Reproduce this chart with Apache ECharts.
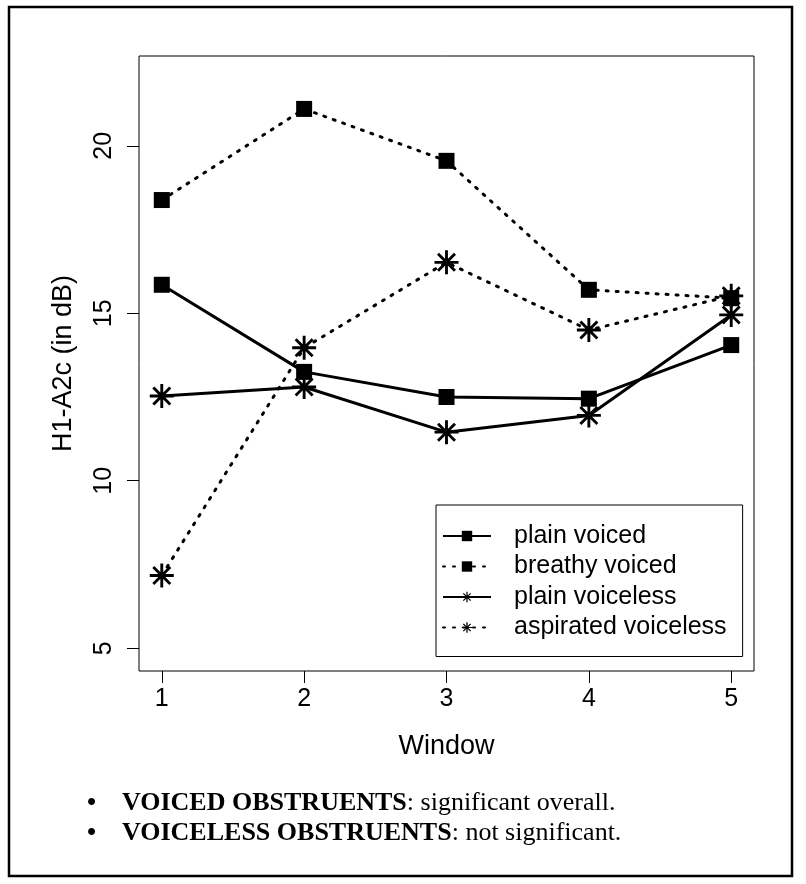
<!DOCTYPE html>
<html><head><meta charset="utf-8">
<script src="https://cdn.jsdelivr.net/npm/echarts@6/dist/echarts.min.js"></script>
<style>html,body{margin:0;padding:0;background:#fff}#c{width:806px;height:884px}</style>
</head><body><div id="c"></div>
<script>
// ---- data ----
const windows = [1, 2, 3, 4, 5];
const xTicks = [1, 2, 3, 4, 5];
const yTicks = [5, 10, 15, 20];
const plainVoiced = [15.85, 13.25, 12.5, 12.45, 14.05];
const breathyVoiced = [18.38, 21.1, 19.55, 15.7, 15.45];
const plainVoiceless = [12.53, 12.8, 11.45, 11.95, 14.95];
const aspiratedVoiceless = [7.17, 13.97, 16.52, 14.5, 15.52];
const seriesNames = ['plain voiced', 'breathy voiced', 'plain voiceless', 'aspirated voiceless'];
const xTitle = 'Window';
const yTitle = 'H1-A2c (in dB)';
const noteBold = ['VOICED OBSTRUENTS', 'VOICELESS OBSTRUENTS'];
const noteRest = [': significant overall.', ': not significant.'];

// ---- styling ----
const SANS = '"Liberation Sans", Arial, Helvetica, sans-serif';
const SERIF = '"Liberation Serif", "Times New Roman", Times, serif';
const ASTERISK = 'path://M0 44L100 44L100 56L0 56Z M44 0L56 0L56 100L44 100Z M18.88 10.4L89.6 81.12L81.12 89.6L10.4 18.88Z M89.6 18.88L18.88 89.6L10.4 81.12L81.12 10.4Z';
const solid = { color: '#000', width: 3, type: 'solid' };
const dotted = { color: '#000', width: 3, type: [2, 8], cap: 'round' };

function mk(name, vals, symbol, size, ls) {
  return {
    name, type: 'line',
    data: windows.map((w, i) => [w, vals[i]]),
    symbol, symbolSize: size, symbolKeepAspect: true, showSymbol: true, showAllSymbol: true,
    lineStyle: ls, itemStyle: { color: '#000' },
    emphasis: { disabled: true }, clip: false, animation: false
  };
}

const chart = echarts.init(document.getElementById('c'), null, { renderer: 'canvas' });
chart.setOption({
  animation: false,
  backgroundColor: '#fff',
  grid: { left: 139, right: 52, top: 56, bottom: 213, show: true, borderColor: '#000', borderWidth: 1, backgroundColor: 'transparent' },
  xAxis: {
    type: 'value', min: 0.84, max: 5.16,
    name: xTitle, nameLocation: 'middle', nameGap: 62,
    nameTextStyle: { fontSize: 27, fontFamily: SANS, color: '#000' },
    axisLine: { show: false }, splitLine: { show: false },
    axisTick: { show: true, length: 12, customValues: xTicks, lineStyle: { color: '#000', width: 1 } },
    axisLabel: { show: true, customValues: xTicks, fontSize: 25, fontFamily: SANS, color: '#000', margin: 16 }
  },
  yAxis: {
    type: 'value', min: 4.32, max: 22.68,
    name: yTitle, nameLocation: 'middle', nameRotate: 90, nameGap: 62,
    nameTextStyle: { fontSize: 27, fontFamily: SANS, color: '#000' },
    axisLine: { show: false }, splitLine: { show: false },
    axisTick: { show: true, length: 12, customValues: yTicks, lineStyle: { color: '#000', width: 1 } },
    axisLabel: { show: true, customValues: yTicks, rotate: 90, fontSize: 25, fontFamily: SANS, color: '#000', margin: 22 }
  },
  legend: {
    orient: 'vertical', left: 436, top: 505,
    padding: [16, 16, 14, 6], itemGap: 0.5, itemWidth: 48, itemHeight: 13,
    borderColor: '#000', borderWidth: 1, backgroundColor: '#fff',
    selectedMode: false, data: seriesNames,
    textStyle: { fontSize: 25, fontFamily: SANS, color: '#000', lineHeight: 30, padding: [0, 0, 0, 18] }
  },
  series: [
    mk(seriesNames[0], plainVoiced, 'rect', 16, solid),
    mk(seriesNames[1], breathyVoiced, 'rect', 16, dotted),
    mk(seriesNames[2], plainVoiceless, ASTERISK, 24, solid),
    mk(seriesNames[3], aspiratedVoiceless, ASTERISK, 24, dotted)
  ],
  graphic: [
    { type: 'rect', silent: true, z: -1, shape: { x: 9, y: 7, width: 783, height: 869 }, style: { fill: 'none', stroke: '#000', lineWidth: 2.5 } }
  ].concat(noteBold.map((b, i) => ({
    type: 'text', silent: true, x: 122, y: 803 + 30 * i,
    style: {
      text: '{b|' + b + '}{r|' + noteRest[i] + '}',
      verticalAlign: 'middle',
      rich: {
        b: { fontWeight: 'bold', fontFamily: SERIF, fontSize: 26, fill: '#000' },
        r: { fontFamily: SERIF, fontSize: 26, fill: '#000' }
      }
    }
  }))).concat(noteBold.map((b, i) => ({
    type: 'text', silent: true, x: 87, y: 803 + 30 * i,
    style: { text: '\u2022', verticalAlign: 'middle', fontFamily: SANS, fontSize: 26, fill: '#000' }
  })))
});
</script>
</body></html>
